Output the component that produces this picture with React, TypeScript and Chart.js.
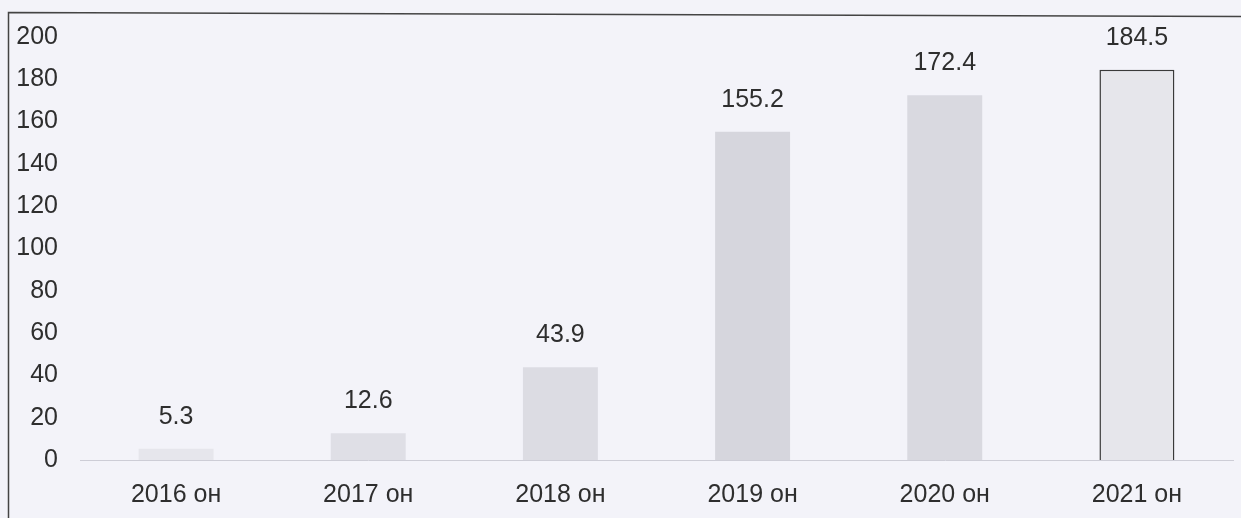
import React, { useEffect, useRef } from "react";
import { Chart, registerables } from "chart.js";

Chart.register(...registerables);

const categories = ["2016 он", "2017 он", "2018 он", "2019 он", "2020 он", "2021 он"];
const values = [5.3, 12.6, 43.9, 155.2, 172.4, 184.5];
const barColors = ["#e6e6ec", "#dfdfe6", "#dcdce3", "#d6d6dd", "#d9d9e0", "#e6e6eb"];
const barBorderColors = ["#e6e6ec", "#dfdfe6", "#dcdce3", "#d6d6dd", "#d9d9e0", "#3a3a3a"];
const barBorderWidths = [0, 0, 0, 0, 0, 1.5];

const FONT = "'Liberation Sans', Arial, sans-serif";

const framePlugin = {
  id: "frame",
  beforeDraw(chart: any) {
    const { ctx, width, height } = chart;
    ctx.save();
    ctx.fillStyle = "#f3f3f9";
    ctx.fillRect(0, 0, width, height);
    ctx.strokeStyle = "#444";
    ctx.lineWidth = 1.5;
    ctx.beginPath();
    ctx.moveTo(8.5, height);
    ctx.lineTo(8.5, 12.5);
    ctx.lineTo(width, 16.5);
    ctx.stroke();
    ctx.restore();
  },
};

const labelPlugin = {
  id: "valueLabels",
  afterDatasetsDraw(chart: any) {
    const { ctx } = chart;
    const meta = chart.getDatasetMeta(0);
    ctx.save();
    ctx.fillStyle = "#2e2e2e";
    ctx.font = `25px ${FONT}`;
    ctx.textAlign = "center";
    ctx.textBaseline = "middle";
    meta.data.forEach((bar: any, i: number) => {
      ctx.fillText(String(values[i]), bar.x, bar.y - 32);
    });
    ctx.restore();
  },
};

export default function App() {
  const ref = useRef<HTMLCanvasElement | null>(null);
  useEffect(() => {
    document.body.style.margin = "0";
    const chart = new Chart(ref.current as HTMLCanvasElement, {
      type: "bar",
      data: {
        labels: categories,
        datasets: [
          {
            data: values,
            backgroundColor: barColors,
            borderColor: barBorderColors,
            borderWidth: barBorderWidths,
            categoryPercentage: 1,
            barPercentage: 0.39,
          },
        ],
      },
      options: {
        animation: false,
        responsive: false,
        layout: { padding: { top: 36, right: 8, left: 0, bottom: 0 } },
        plugins: { legend: { display: false }, tooltip: { enabled: false } },
        scales: {
          x: {
            grid: { display: false, drawTicks: false },
            border: { display: true, color: "#cdcdd6", width: 1 },
            ticks: { color: "#2e2e2e", font: { family: FONT, size: 25 }, padding: 20 },
            afterFit(scale: any) {
              scale.height = 58;
            },
          },
          y: {
            min: 0,
            max: 200,
            grid: { display: false, drawTicks: false },
            border: { display: false },
            ticks: { stepSize: 20, color: "#2e2e2e", font: { family: FONT, size: 25 }, padding: 22 },
            afterFit(scale: any) {
              scale.width = 80;
            },
          },
        },
      },
      plugins: [framePlugin, labelPlugin],
    });
    return () => chart.destroy();
  }, []);
  return <canvas ref={ref} width={1241} height={518} style={{ display: "block" }} />;
}
